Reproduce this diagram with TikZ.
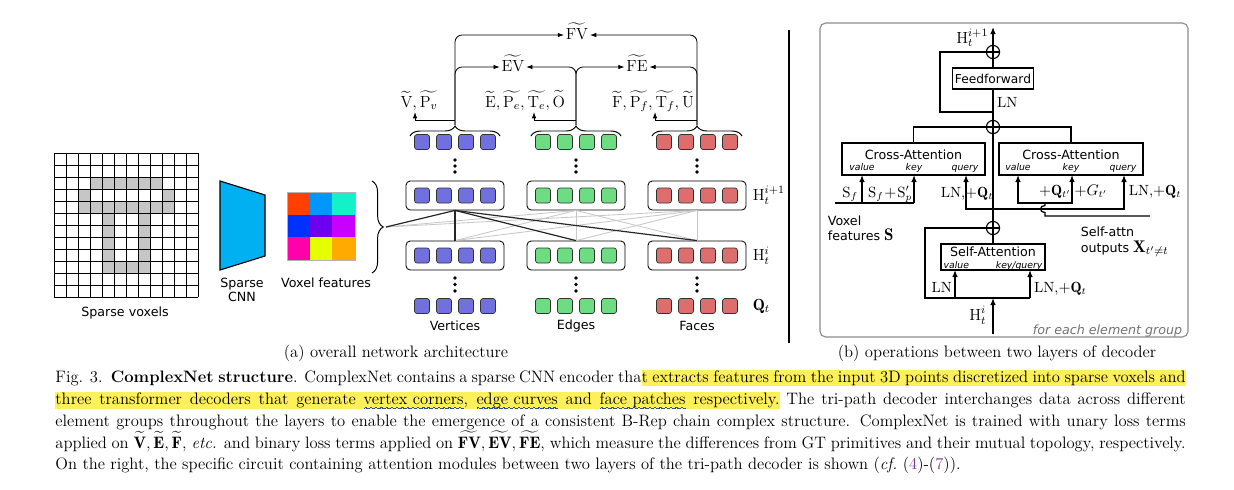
\documentclass[tikz,border=0pt]{standalone}
\usepackage{amsmath}
\usepackage{fontspec}
\setsansfont{DejaVu Sans}[ItalicFont={DejaVu Sans Oblique},BoldFont={DejaVu Sans Bold}]
\usetikzlibrary{calc,arrows.meta,decorations.pathreplacing}

\definecolor{vcol}{RGB}{112,112,222}
\definecolor{ecol}{RGB}{110,220,130}
\definecolor{fcol}{RGB}{222,110,110}
\definecolor{cnn}{RGB}{0,176,240}
\definecolor{hly}{RGB}{253,240,90}
\definecolor{wavecol}{RGB}{40,80,170}
\definecolor{refcol}{RGB}{125,60,150}
\definecolor{fa}{RGB}{255,64,0}
\definecolor{fb}{RGB}{0,150,255}
\definecolor{fc}{RGB}{20,240,200}
\definecolor{fd}{RGB}{0,50,255}
\definecolor{fe}{RGB}{110,0,240}
\definecolor{ff}{RGB}{200,0,255}
\definecolor{fg}{RGB}{255,0,170}
\definecolor{fh}{RGB}{230,255,0}
\definecolor{fi}{RGB}{255,170,0}

\newcommand\wv[1]{\vrule width0.45pt height-#1pt depth\dimexpr#1pt+0.6pt\relax}
\newcommand\wavebit{\hbox{\wv{2.6}\wv{2.3}\wv{2.2}\wv{2.3}\wv{2.6}\wv{2.9}\wv{3.0}\wv{2.9}}}
\newcommand\bluewave[1]{\setbox0\hbox{#1}\rlap{\textcolor{wavecol}{\hbox to \wd0{\xleaders\wavebit\hfil}}}\box0\relax}
\newcommand\hlseg[2]{{\setlength\fboxsep{0pt}\colorbox{hly}{\rule[-3pt]{0pt}{11.4pt}\makebox[#1][s]{#2}}}}
\newcommand\capline[1]{\makebox[28.25cm][s]{#1}}

\begin{document}
\begin{tikzpicture}[x=0.025cm,y=-0.025cm,line width=0.6pt,
  sq/.style={draw=black!80,rounded corners=1.8pt,minimum size=0.375cm,inner sep=0pt,line width=0.5pt},
  lay/.style={draw,rounded corners=3pt,minimum width=2.45cm,minimum height=0.725cm,inner sep=0pt},
  arr/.style={-{Latex[length=4.5pt,width=3.2pt]}},
  arrb/.style={-{Latex[length=5pt,width=4pt]}},
  blk/.style={draw,line width=0.9pt,inner sep=0pt},
  op/.style={circle,draw,line width=0.8pt,minimum size=0.33cm,inner sep=0pt,
    path picture={\draw (path picture bounding box.north)--(path picture bounding box.south)
      (path picture bounding box.west)--(path picture bounding box.east);}},
  lbl/.style={font=\fontsize{9}{10}\selectfont\sffamily,inner sep=1pt},
  port/.style={font=\fontsize{6.6}{8}\selectfont\sffamily\itshape,inner sep=0pt,anchor=base},
  mth/.style={font=\fontsize{11.5}{13}\selectfont,inner sep=1pt},
  mthb/.style={font=\fontsize{10.5}{12}\selectfont,inner sep=0.5pt},
  captxt/.style={font=\fontsize{11.8}{14}\selectfont,inner sep=0pt,anchor=base west},
  meshg/.style={black!22,line width=0.6pt},
  meshd/.style={black!85,line width=0.85pt}]
\useasboundingbox (0,0) rectangle (1234,489);

% sparse voxels
\foreach \r/\cs in {3/{4,...,9},4/{3,10},5/{3,...,10},6/{5,8},7/{5,8},8/{5,8},9/{5,8},10/{5,...,8}}
  \foreach \c in \cs \fill[gray!45] (42+12*\c,141+12*\r) rectangle ++(12,12);
\foreach \i in {0,...,12} {
  \draw (54+12*\i,153)--(54+12*\i,297);
  \draw (54,153+12*\i)--(198,153+12*\i);}
\node[lbl] (vxl) at (125,313) {Sparse voxels};

% encoder and features
\draw[fill=cnn,line width=0.8pt] (220,181)--(265,195)--(265,256)--(220,270)--cycle;
\node[lbl,align=center] (cnnl) at (242,290) {Sparse\\CNN};
\foreach \fcl [count=\k from 0] in {fa,fb,fc,fd,fe,ff,fg,fh,fi} {
  \pgfmathtruncatemacro\cx{mod(\k,3)}
  \pgfmathtruncatemacro\cy{div(\k,3)}
  \fill[\fcl] (287+22.7*\cx,192+22.7*\cy) rectangle ++(22.7,22.7);}
\draw[black!30,line width=0.4pt] (287,192) rectangle (355,260);
\node[lbl] (featl) at (326,283) {Voxel features};
\draw[decorate,decoration={brace,amplitude=0.28cm},line width=0.7pt] (372,181)--(372,273);
\coordinate (feat) at (386,227);

% three element groups
\foreach \g/\x/\fcl/\lab in {v/455/vcol/Vertices,e/576/ecol/Edges,f/697/fcol/Faces} {
  \node[lay] (\g1) at (\x,195.5) {};
  \node[lay] (\g2) at (\x,255.5) {};
  \foreach \dx in {-33,-11,11,33} {
    \node[sq,fill=\fcl] at (\x+\dx,142) {};
    \node[sq,fill=\fcl] at (\x+\dx,195.5) {};
    \node[sq,fill=\fcl] at (\x+\dx,255.5) {};
    \node[sq,fill=\fcl] at (\x+\dx,306) {};}
  \foreach \y in {160,166,172,278,284.5,291} \fill (\x,\y) circle (1.3pt);
  \node[lbl] at (\x,326) {\lab};
  \draw[decorate,decoration={brace,amplitude=0.25cm},line width=0.7pt] (\x-45,136)--(\x+45,136);
  \coordinate (\g3) at (\x,125);}

% interchange between layers
\foreach \s in {e1,f1} \draw[meshg] (feat)--(\s.south);
\foreach \s in {e1,f1} \foreach \t in {v2,e2,f2} \draw[meshg] (\s.south)--(\t.north);
\draw[meshd] (feat)--(v1.south);
\foreach \t in {v2,e2,f2} \draw[meshd] (v1.south)--(\t.north);

\node[mth,anchor=west] at (751,195.5) {$\mathrm{H}_t^{i+1}$};
\node[mth,anchor=west] at (751,255.5) {$\mathrm{H}_t^{i}$};
\node[mth,anchor=west] at (751,306) {$\mathbf{Q}_t$};

% pairwise and unary outputs
\node[mth,anchor=base] (FV) at (577,39.5) {$\widetilde{\mathrm{FV}}$};
\node[mth,anchor=base] (EV) at (513,71.5) {$\widetilde{\mathrm{EV}}$};
\node[mth,anchor=base] (FE) at (637,71.5) {$\widetilde{\mathrm{FE}}$};
\draw[arr,rounded corners=5] (v3) |- ($(FV.base west)+(0,-4.5)$);
\draw[arr,rounded corners=5] (f3) |- ($(FV.base east)+(0,-4.5)$);
\draw[arr,rounded corners=5] (v3) |- ($(EV.base west)+(0,-4.5)$);
\draw[arr,rounded corners=5] (e3) |- ($(EV.base east)+(0,-4.5)$);
\draw[arr,rounded corners=5] (e3) |- ($(FE.base west)+(0,-4.5)$);
\draw[arr,rounded corners=5] (f3) |- ($(FE.base east)+(0,-4.5)$);
\node[mth,anchor=base] (vl) at (419,107) {$\widetilde{\mathrm{V}}, \widetilde{\mathrm{P}_v}$};
\node[mth,anchor=base] (el) at (525,107) {$\widetilde{\mathrm{E}}, \widetilde{\mathrm{P}_e}, \widetilde{\mathrm{T}_e}, \widetilde{\mathrm{O}}$};
\node[mth,anchor=base] (fl) at (653,107) {$\widetilde{\mathrm{F}}, \widetilde{\mathrm{P}_f}, \widetilde{\mathrm{T}_f}, \widetilde{\mathrm{U}}$};
\coordinate (vu) at (415,112);
\coordinate (eu) at (534,112);
\coordinate (fu) at (655,112);
\draw[arr] ($(v3)+(0,-5)$) -| (vu);
\draw[arr] ($(e3)+(0,-5)$) -| (eu);
\draw[arr] ($(f3)+(0,-5)$) -| (fu);

\draw[line width=1pt] (789,30)--(789,343);

% (b) one decoder layer
\draw[black!45,rounded corners=4pt,line width=0.8pt] (820,23) rectangle (1188,337);
\begin{scope}[line width=0.9pt]
\node[op] (o1) at (993,52) {};
\node[blk,minimum width=2.025cm,minimum height=0.525cm,font=\fontsize{8.7}{10}\selectfont\sffamily] (ffw) at (993,78.5) {Feedforward};
\node[op] (o2) at (993,127) {};
\node[blk,minimum width=3.575cm,minimum height=0.8cm] (ca1) at (913.5,159) {};
\node[blk,minimum width=3.6cm,minimum height=0.8cm] (ca2) at (1071,159) {};
\node[op] (o3) at (993,228) {};
\node[blk,minimum width=2.6cm,minimum height=0.65cm] (sa) at (993,257) {};
\node[lbl,anchor=base] at (913.5,159) {Cross-Attention};
\node[lbl,anchor=base] at (1071,159) {Cross-Attention};
\node[lbl,anchor=base] at (993,256) {Self-Attention};
\foreach \px/\pt in {862/value,914/key,965/query,1018/value,1071/key,1123/query} \node[port] at (\px,170) {\pt};
\node[port,anchor=base west] at (943,268) {value};
\node[port,anchor=base east] at (1043,268) {key/query};
\coordinate (top) at (993,27);
\coordinate (sk) at (993,112);
\coordinate (qs) at (993,209);
\coordinate (ca1v) at (862,175);
\coordinate (ca1k) at (914,175);
\coordinate (ca1q) at (966,175);
\coordinate (ca2v) at (1018,175);
\coordinate (ca2k) at (1072,175);
\coordinate (ca2q) at (1124,175);
\coordinate (s0) at (835,203);
\coordinate (xin) at (1045,203);
\coordinate (xend) at (1150,216);
\coordinate (hin) at (993,334);
\coordinate (hsp) at (993,298);
\coordinate (sav) at (955,270);
\coordinate (sak) at (1030,270);
\draw[arrb] (o1)--(top);
\draw (ffw)--(o1);
\draw (o2)--(ffw);
\draw (sk)--(940,112) |- (o1);
\draw (o2) -| (ca1);
\draw (o2) -| (ca2);
\draw (o3)--(o2);
\draw[arrb] (qs) -| (ca1q);
\draw[arrb] (qs) -| (ca2q);
\draw (s0)--(ca1k |- s0);
\draw[arrb] (ca1v |- s0)--(ca1v);
\draw[arrb] (ca1k |- s0)--(ca1k);
\draw[arrb] (xin) -| (ca2v);
\draw[arrb] (xin) -| (ca2k);
\draw (xin)--(1045,205.5) .. controls (1039,205.5) and (1039,212.5) .. (1045,212.5)--(1045,216)--(xend);
\draw[arrb] (hin)--(hsp);
\draw (hsp)--(925,298) |- (o3);
\draw (hsp)--(sak |- hsp);
\draw[arrb] (sav |- hsp)--(sav);
\draw[arrb] (sak |- hsp)--(sak);
\draw (sa)--(o3);
\end{scope}
\node[mth,anchor=base east] at (990,43) {$\mathrm{H}_t^{i+1}$};
\node[mthb,anchor=base west] at (996,107) {LN};
\node[mthb,anchor=base east] at (859,197) {$\mathrm{S}_f$};
\node[mthb,anchor=base west] at (867,197) {$\mathrm{S}_f\!+\!\mathrm{S}'_p$};
\node[mthb,anchor=base] at (967,197) {LN,$+\mathbf{Q}_t$};
\node[mthb,anchor=base] at (1055,195) {$+\mathbf{Q}_{t'}$};
\node[mthb,anchor=base] at (1091,195) {$+G_{t'}$};
\node[mthb,anchor=base] at (1155,195) {LN,$+\mathbf{Q}_t$};
\node[lbl,anchor=base west] at (826,225) {Voxel};
\node[lbl,anchor=base west] at (826,240) {features {\rmfamily\fontsize{12}{12}\selectfont$\mathbf{S}$}};
\node[lbl,anchor=base west] at (1079,236) {Self-attn};
\node[lbl,anchor=base west] at (1079,252) {outputs {\rmfamily\fontsize{12}{12}\selectfont$\mathbf{X}_{t'\neq t}$}};
\node[mthb,anchor=base east] at (953,292) {LN};
\node[mthb,anchor=base west] at (1033,292) {LN,$+\mathbf{Q}_t$};
\node[mth,anchor=base east] at (988,320) {$\mathrm{H}_t^{i}$};
\node[lbl,anchor=base east,text=black!55,font=\fontsize{9}{10}\selectfont\sffamily\itshape] at (1184,334) {for each element group};

% captions
\node[captxt,anchor=base] at (396,357) {(a) overall network architecture};
\node[captxt,anchor=base] at (997,357) {(b) operations between two layers of decoder};
\node[captxt] (l1) at (55,382) {\capline{Fig. 3.\enspace\textbf{ComplexNet structure}. ComplexNet contains a sparse CNN encoder tha\hlseg{13.6cm}{t extracts features from the input 3D points discretized into sparse voxels and}}};
\node[captxt] (l2) at (55,404) {\capline{\hlseg{18.1cm}{three transformer decoders that generate \bluewave{vertex corners}, \bluewave{edge curves} and \bluewave{face patches} respectively.} The tri-path decoder interchanges data across different}};
\node[captxt] (l3) at (55,426) {\capline{element groups throughout the layers to enable the emergence of a consistent B-Rep chain complex structure. ComplexNet is trained with unary loss terms}};
\node[captxt] (l4) at (55,448) {\capline{applied on $\widetilde{\mathbf{V}}, \widetilde{\mathbf{E}}, \widetilde{\mathbf{F}}$, \textit{etc.} and binary loss terms applied on $\widetilde{\mathbf{FV}}, \widetilde{\mathbf{EV}}, \widetilde{\mathbf{FE}}$, which measure the differences from GT primitives and their mutual topology, respectively.}};
\node[captxt] (l5) at (55,469) {On the right, the specific circuit containing attention modules between two layers of the tri-path decoder is shown (\textit{cf.}~(\textcolor{refcol}{4})-(\textcolor{refcol}{7})).};
\end{tikzpicture}
\end{document}
